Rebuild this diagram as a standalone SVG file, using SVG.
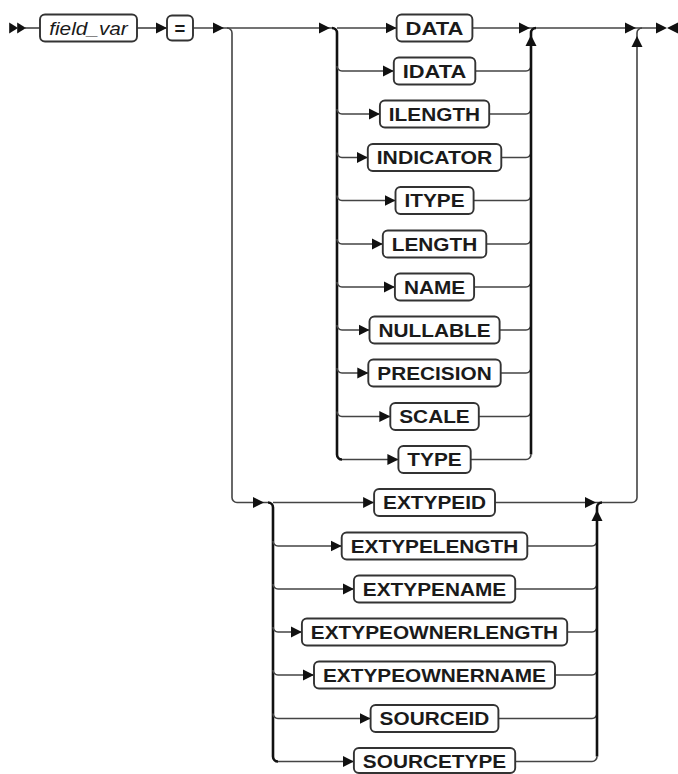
<svg xmlns="http://www.w3.org/2000/svg" width="678" height="774" viewBox="0 0 678 774">
  <style>
    .line { fill: none; stroke: #444; stroke-width: 1.6; }
    .bar { fill: none; stroke: #111; stroke-width: 2.6; }
    .box { fill: #fff; stroke: #333; stroke-width: 1.9; }
    .kw { font-family: "Liberation Sans", Arial, sans-serif; font-weight: bold; font-size: 18.5px; fill: #1a1a1a; text-anchor: middle; }
    .var { font-family: "Liberation Sans", Arial, sans-serif; font-style: italic; font-size: 18.5px; fill: #1a1a1a; text-anchor: middle; }
    .ah { fill: #111; }
  </style>
  <defs>
    <path id="ah" class="ah" d="M0 0 L-11 -5.5 L-11 5.5 Z"/>
    <marker id="arr" viewBox="-11 -6 11 12" refX="0" refY="0" markerWidth="11" markerHeight="12" markerUnits="userSpaceOnUse" orient="auto">
      <path d="M0 0 L-11 -5.5 L-11 5.5 Z" fill="#111"/>
    </marker>
  </defs>

  <!-- connectors -->
  <g id="connectors">
    <!-- main line -->
    <path class="line" d="M25 28 H40"/>
    <path class="line" d="M137 28 H167"/>
    <path class="line" d="M193 28 H332"/>
    <!-- start / end markers -->
    <use href="#ah" transform="translate(18,28) scale(0.8,1)"/>
    <use href="#ah" transform="translate(26,28) scale(0.8,1)"/>
    <use href="#ah" transform="translate(167,28)"/>
    <use href="#ah" transform="translate(224,28)"/>
    <use href="#ah" transform="translate(330,28)"/>

    <!-- first choice: left bar and branch rows -->
    <path class="bar" d="M332 28 a5 5 0 0 1 5 5 V454.5 a5 5 0 0 0 5 5"/>
    <path class="line" d="M337 28 H396.6" marker-end="url(#arr)"/>
    <path class="line" d="M337 66 a5 5 0 0 0 5 5 H393.8" marker-end="url(#arr)"/>
    <path class="line" d="M337 109 a5 5 0 0 0 5 5 H379.9" marker-end="url(#arr)"/>
    <path class="line" d="M337 152.5 a5 5 0 0 0 5 5 H367.8" marker-end="url(#arr)"/>
    <path class="line" d="M337 195.5 a5 5 0 0 0 5 5 H395.5" marker-end="url(#arr)"/>
    <path class="line" d="M337 239 a5 5 0 0 0 5 5 H382.8" marker-end="url(#arr)"/>
    <path class="line" d="M337 282 a5 5 0 0 0 5 5 H394.9" marker-end="url(#arr)"/>
    <path class="line" d="M337 325 a5 5 0 0 0 5 5 H369.5" marker-end="url(#arr)"/>
    <path class="line" d="M337 368 a5 5 0 0 0 5 5 H368.3" marker-end="url(#arr)"/>
    <path class="line" d="M337 411.5 a5 5 0 0 0 5 5 H390.3" marker-end="url(#arr)"/>
    <path class="line" d="M342 459.5 H398.4" marker-end="url(#arr)"/>

    <!-- first choice: right side -->
    <path class="line" d="M472.4 28 H656"/>
    <path class="line" d="M475.3 71 H526 a5 5 0 0 0 5 -5"/>
    <path class="line" d="M489.2 114 H526 a5 5 0 0 0 5 -5"/>
    <path class="line" d="M501.3 157.5 H526 a5 5 0 0 0 5 -5"/>
    <path class="line" d="M473.6 200.5 H526 a5 5 0 0 0 5 -5"/>
    <path class="line" d="M486.3 244 H526 a5 5 0 0 0 5 -5"/>
    <path class="line" d="M474.1 287 H526 a5 5 0 0 0 5 -5"/>
    <path class="line" d="M499.6 330 H526 a5 5 0 0 0 5 -5"/>
    <path class="line" d="M500.7 373 H526 a5 5 0 0 0 5 -5"/>
    <path class="line" d="M478.8 416.5 H526 a5 5 0 0 0 5 -5"/>
    <path class="line" d="M470.7 459.5 H526 a5 5 0 0 0 5 -5"/>
    <path class="bar" d="M531 454.5 V33 a5 5 0 0 1 5 -5"/>
    <use href="#ah" transform="translate(530,28)"/>
    <use href="#ah" transform="translate(531,35) rotate(-90)"/>

    <!-- lower branch from the first split -->
    <path class="line" d="M227 28 a5 5 0 0 1 5 5 V497.5 a5 5 0 0 0 5 5 H268"/>
    <use href="#ah" transform="translate(264,502.5)"/>

    <!-- second choice: left bar and branch rows -->
    <path class="bar" d="M268 502.5 a5 5 0 0 1 5 5 V756.5 a5 5 0 0 0 5 5"/>
    <path class="line" d="M273 502.5 H374.1" marker-end="url(#arr)"/>
    <path class="line" d="M273 541 a5 5 0 0 0 5 5 H341.7" marker-end="url(#arr)"/>
    <path class="line" d="M273 584 a5 5 0 0 0 5 5 H353.9" marker-end="url(#arr)"/>
    <path class="line" d="M273 627 a5 5 0 0 0 5 5 H301.9" marker-end="url(#arr)"/>
    <path class="line" d="M273 670 a5 5 0 0 0 5 5 H314" marker-end="url(#arr)"/>
    <path class="line" d="M273 713.5 a5 5 0 0 0 5 5 H370.6" marker-end="url(#arr)"/>
    <path class="line" d="M278 761.5 H353.9" marker-end="url(#arr)"/>

    <!-- second choice: right side -->
    <path class="line" d="M495 502.5 H632 a5 5 0 0 0 5 -5 V33 a5 5 0 0 1 5 -5"/>
    <path class="line" d="M527.3 546 H592 a5 5 0 0 0 5 -5"/>
    <path class="line" d="M515.2 589 H592 a5 5 0 0 0 5 -5"/>
    <path class="line" d="M567.2 632 H592 a5 5 0 0 0 5 -5"/>
    <path class="line" d="M555 675 H592 a5 5 0 0 0 5 -5"/>
    <path class="line" d="M498.4 718.5 H592 a5 5 0 0 0 5 -5"/>
    <path class="line" d="M515.2 761.5 H592 a5 5 0 0 0 5 -5"/>
    <path class="bar" d="M597 756.5 V507.5 a5 5 0 0 1 5 -5"/>
    <use href="#ah" transform="translate(596,502.5)"/>
    <use href="#ah" transform="translate(597,510) rotate(-90)"/>

    <!-- join into the main line and end marker -->
    <use href="#ah" transform="translate(636,28)"/>
    <use href="#ah" transform="translate(637,36) rotate(-90)"/>
    <use href="#ah" transform="translate(667,28)"/>
    <use href="#ah" transform="translate(667,28) scale(-1,1)"/>
  </g>

  <!-- leading nodes -->
  <g id="n-field_var"><rect class="box" x="40" y="14.5" width="97" height="27" rx="5"/><text class="var" x="88.5" y="34.6" textLength="78.6" lengthAdjust="spacingAndGlyphs">field_var</text></g>
  <g id="n-eq"><rect class="box" x="167" y="15.5" width="26" height="25" rx="5"/><text class="kw" x="180" y="34.6">=</text></g>

  <!-- first choice -->
  <g id="n-DATA"><rect class="box" x="396.6" y="14.5" width="75.8" height="27" rx="5"/><text class="kw" x="434.5" y="34.6" textLength="57.8" lengthAdjust="spacingAndGlyphs">DATA</text></g>
  <g id="n-IDATA"><rect class="box" x="393.8" y="57.5" width="81.5" height="27" rx="5"/><text class="kw" x="434.5" y="77.6" textLength="63.5" lengthAdjust="spacingAndGlyphs">IDATA</text></g>
  <g id="n-ILENGTH"><rect class="box" x="379.9" y="100.5" width="109.3" height="27" rx="5"/><text class="kw" x="434.5" y="120.6" textLength="91.3" lengthAdjust="spacingAndGlyphs">ILENGTH</text></g>
  <g id="n-INDICATOR"><rect class="box" x="367.8" y="144" width="133.5" height="27" rx="5"/><text class="kw" x="434.5" y="164.1" textLength="115.5" lengthAdjust="spacingAndGlyphs">INDICATOR</text></g>
  <g id="n-ITYPE"><rect class="box" x="395.5" y="187" width="78.1" height="27" rx="5"/><text class="kw" x="434.5" y="207.1" textLength="60.1" lengthAdjust="spacingAndGlyphs">ITYPE</text></g>
  <g id="n-LENGTH"><rect class="box" x="382.8" y="230.5" width="103.5" height="27" rx="5"/><text class="kw" x="434.5" y="250.6" textLength="85.5" lengthAdjust="spacingAndGlyphs">LENGTH</text></g>
  <g id="n-NAME"><rect class="box" x="394.9" y="273.5" width="79.2" height="27" rx="5"/><text class="kw" x="434.5" y="293.6" textLength="61.2" lengthAdjust="spacingAndGlyphs">NAME</text></g>
  <g id="n-NULLABLE"><rect class="box" x="369.5" y="316.5" width="130.1" height="27" rx="5"/><text class="kw" x="434.5" y="336.6" textLength="112.1" lengthAdjust="spacingAndGlyphs">NULLABLE</text></g>
  <g id="n-PRECISION"><rect class="box" x="368.3" y="359.5" width="132.4" height="27" rx="5"/><text class="kw" x="434.5" y="379.6" textLength="114.4" lengthAdjust="spacingAndGlyphs">PRECISION</text></g>
  <g id="n-SCALE"><rect class="box" x="390.3" y="403" width="88.5" height="27" rx="5"/><text class="kw" x="434.5" y="423.1" textLength="70.5" lengthAdjust="spacingAndGlyphs">SCALE</text></g>
  <g id="n-TYPE"><rect class="box" x="398.4" y="446" width="72.3" height="27" rx="5"/><text class="kw" x="434.5" y="466.1" textLength="54.3" lengthAdjust="spacingAndGlyphs">TYPE</text></g>

  <!-- second choice -->
  <g id="n-EXTYPEID"><rect class="box" x="374.1" y="489" width="120.9" height="27" rx="5"/><text class="kw" x="434.5" y="509.1" textLength="102.9" lengthAdjust="spacingAndGlyphs">EXTYPEID</text></g>
  <g id="n-EXTYPELENGTH"><rect class="box" x="341.7" y="532.5" width="185.6" height="27" rx="5"/><text class="kw" x="434.5" y="552.6" textLength="167.6" lengthAdjust="spacingAndGlyphs">EXTYPELENGTH</text></g>
  <g id="n-EXTYPENAME"><rect class="box" x="353.9" y="575.5" width="161.3" height="27" rx="5"/><text class="kw" x="434.5" y="595.6" textLength="143.3" lengthAdjust="spacingAndGlyphs">EXTYPENAME</text></g>
  <g id="n-EXTYPEOWNERLENGTH"><rect class="box" x="301.9" y="618.5" width="265.3" height="27" rx="5"/><text class="kw" x="434.5" y="638.6" textLength="247.3" lengthAdjust="spacingAndGlyphs">EXTYPEOWNERLENGTH</text></g>
  <g id="n-EXTYPEOWNERNAME"><rect class="box" x="314" y="661.5" width="241" height="27" rx="5"/><text class="kw" x="434.5" y="681.6" textLength="223" lengthAdjust="spacingAndGlyphs">EXTYPEOWNERNAME</text></g>
  <g id="n-SOURCEID"><rect class="box" x="370.6" y="705" width="127.8" height="27" rx="5"/><text class="kw" x="434.5" y="725.1" textLength="109.8" lengthAdjust="spacingAndGlyphs">SOURCEID</text></g>
  <g id="n-SOURCETYPE"><rect class="box" x="353.9" y="748" width="161.3" height="25" rx="5"/><text class="kw" x="434.5" y="768.1" textLength="143.3" lengthAdjust="spacingAndGlyphs">SOURCETYPE</text></g>
</svg>
